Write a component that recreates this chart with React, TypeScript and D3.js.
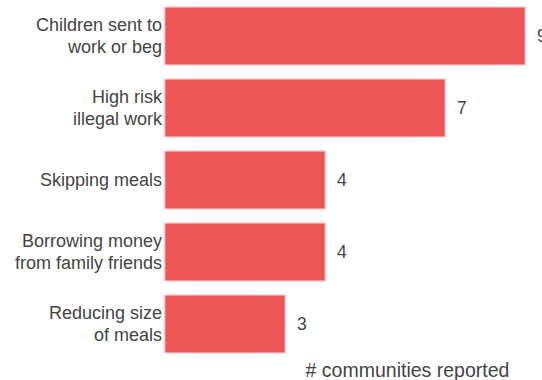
import React from "react";
import * as d3 from "d3";

const categories: string[][] = [
  ["Children sent to", "work or beg"],
  ["High risk", "illegal work"],
  ["Skipping meals"],
  ["Borrowing money", "from family friends"],
  ["Reducing size", "of meals"],
];
const values: number[] = [9, 7, 4, 4, 3];
const axisTitle = "# communities reported";

const W = 542;
const H = 380;

export default function App() {
  const ids = categories.map((_, i) => String(i));
  const x = d3.scaleLinear().domain([0, 10]).range([165, 565]);
  const y = d3
    .scaleBand<string>()
    .domain(ids)
    .range([0, 360])
    .paddingInner(0.2)
    .paddingOuter(0.1);
  const font = "'Liberation Sans', Arial, sans-serif";
  const textColor = "#444444";
  const lineH = 22;
  return (
    <svg
      width={W}
      height={H}
      style={{ position: "absolute", left: 0, top: 0, overflow: "hidden" }}
      fontFamily={font}
    >
      <rect x={0} y={0} width={W} height={H} fill="#ffffff" />
      {values.map((v, i) => {
        const y0 = y(ids[i])!;
        const bw = y.bandwidth();
        const cy = y0 + bw / 2;
        const lines = categories[i];
        const firstBaseline = cy + 6 - ((lines.length - 1) * lineH) / 2;
        return (
          <g key={i}>
            <rect
              x={x(0)}
              y={y0}
              width={x(v) - x(0)}
              height={bw}
              fill="#ef5757"
              stroke="#f6a5a5"
              strokeWidth={1}
            />
            <text
              x={x(v) + 12}
              y={cy + 6}
              fontSize={17.5}
              fill={textColor}
            >
              {v}
            </text>
            <text textAnchor="end" fontSize={18} fill={textColor}>
              {lines.map((l, j) => (
                <tspan key={j} x={162} y={firstBaseline + j * lineH}>
                  {l}
                </tspan>
              ))}
            </text>
          </g>
        );
      })}
      <text
        x={407.5}
        y={377}
        textAnchor="middle"
        fontSize={19.5}
        fill={textColor}
      >
        {axisTitle}
      </text>
    </svg>
  );
}
